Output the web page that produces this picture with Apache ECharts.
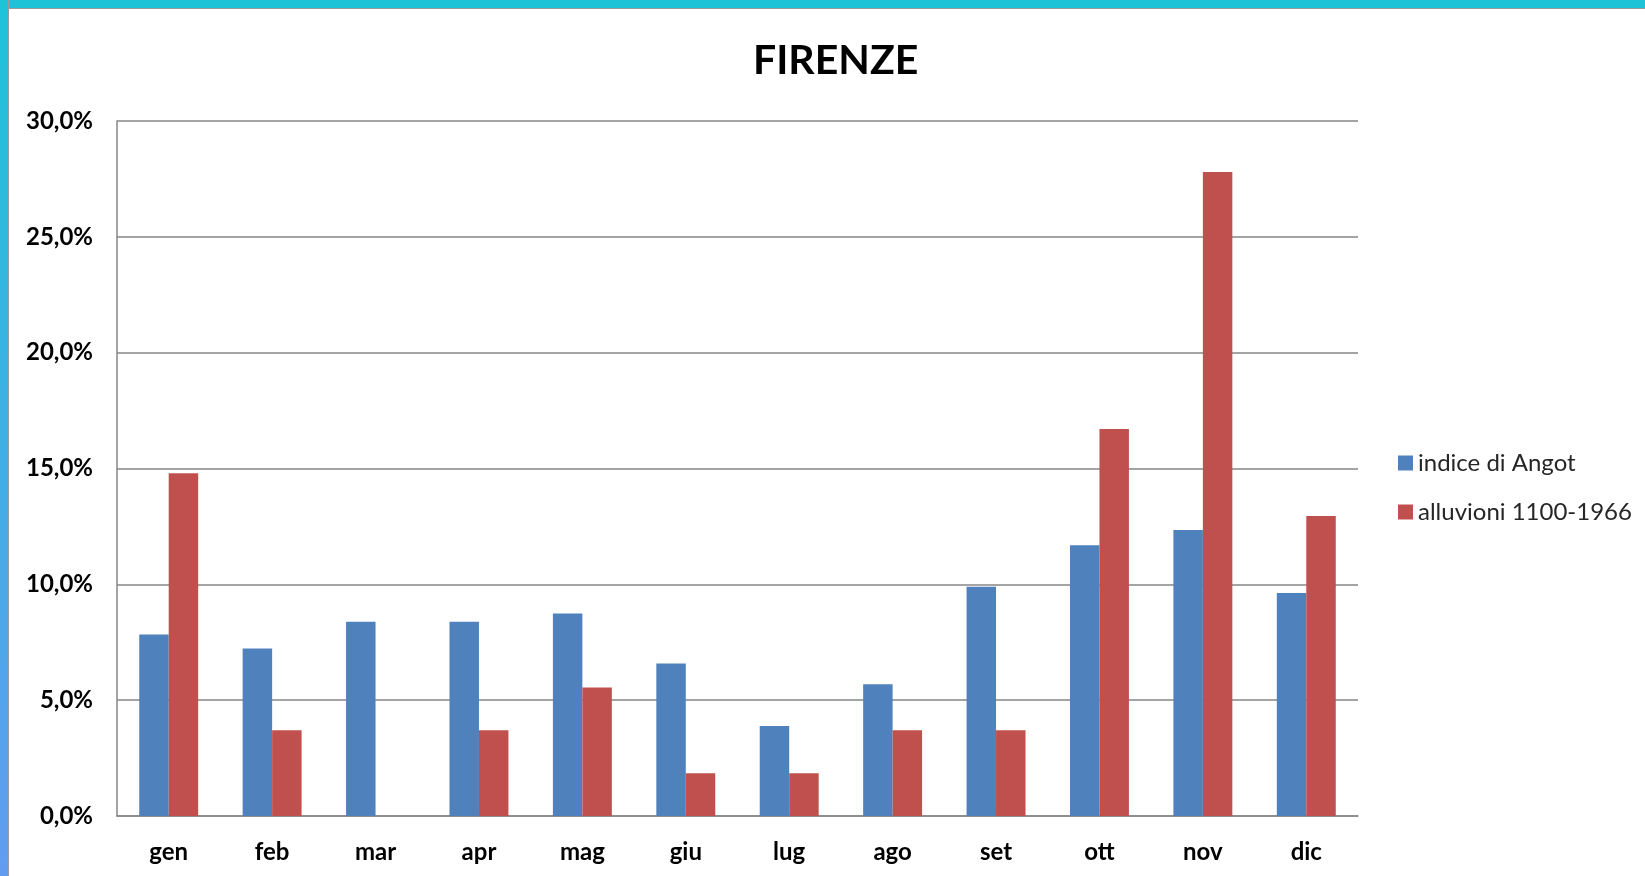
<!DOCTYPE html>
<html>
<head>
<meta charset="utf-8">
<script src="https://cdn.jsdelivr.net/npm/echarts@6/dist/echarts.min.js"></script>
<style>
  html, body { margin:0; padding:0; width:1645px; height:876px; overflow:hidden; background:#fff; }
  #topbar { position:absolute; left:0; top:0; width:1645px; height:8px; background:#1EC3D7; border-bottom:1px solid #9a9a9a; }
  #leftbar { position:absolute; left:0; top:0; width:8px; height:876px; background:linear-gradient(to bottom, #1EC3D7 0%, #3FB0E4 50%, #629CF0 100%); border-right:1px solid #9a9a9a; }
  #chart { position:absolute; left:9px; top:9px; width:1636px; height:867px; }
</style>
</head>
<body>
<div id="topbar"></div>
<div id="leftbar"></div>
<div id="chart"></div>
<script>
const titleText = 'FIRENZE';
const categories = ['gen','feb','mar','apr','mag','giu','lug','ago','set','ott','nov','dic'];
const seriesNames = ['indice di Angot', 'alluvioni 1100-1966'];
const angot = [7.83, 7.23, 8.38, 8.38, 8.74, 6.58, 3.89, 5.69, 9.90, 11.69, 12.34, 9.63];
const alluvioni = [14.8, 3.7, 0, 3.7, 5.55, 1.85, 1.85, 3.7, 3.7, 16.7, 27.8, 12.95];
const yTicks = { min: 0, max: 30, interval: 5 };

const chart = echarts.init(document.getElementById('chart'), null, { renderer: 'canvas' });
const fontFam = 'Lato, "Open Sans", sans-serif';
chart.setOption({
  animation: false,
  backgroundColor: '#ffffff',
  title: {
    text: titleText,
    left: 739,
    top: 26,
    padding: 5,
    textStyle: { fontFamily: fontFam, fontWeight: 'bold', fontSize: 41, color: '#000' }
  },
  legend: {
    orient: 'vertical',
    left: 1384,
    top: 435,
    itemWidth: 15,
    itemHeight: 15,
    itemGap: 21,
    icon: 'rect',
    textStyle: { fontFamily: fontFam, fontSize: 24, color: '#262626', lineHeight: 28, padding: [0,0,0,0] },
    data: seriesNames
  },
  grid: { left: 108, top: 112, right: 287, bottom: 60, containLabel: false },
  xAxis: {
    type: 'category',
    data: categories,
    axisLine: { show: true, lineStyle: { color: '#868686', width: 1.5 } },
    axisTick: { show: false },
    axisLabel: { margin: 24, fontFamily: fontFam, fontWeight: 'bold', fontSize: 24, color: '#000' }
  },
  yAxis: {
    type: 'value',
    min: yTicks.min, max: yTicks.max, interval: yTicks.interval,
    axisLine: { show: true, lineStyle: { color: '#868686', width: 1.5 } },
    axisTick: { show: false },
    splitLine: { show: true, lineStyle: { color: '#868686', width: 1.5 } },
    axisLabel: {
      margin: 24, fontFamily: fontFam, fontWeight: 'bold', fontSize: 24, color: '#000',
      formatter: v => v.toFixed(1).replace('.', ',') + '%'
    }
  },
  series: [
    { name: seriesNames[0], type: 'bar', data: angot, barGap: '0%', barCategoryGap: '43%', itemStyle: { color: '#4F81BD' } },
    { name: seriesNames[1], type: 'bar', data: alluvioni, barGap: '0%', barCategoryGap: '43%', itemStyle: { color: '#C0504D' } }
  ]
});
</script>
</body>
</html>
